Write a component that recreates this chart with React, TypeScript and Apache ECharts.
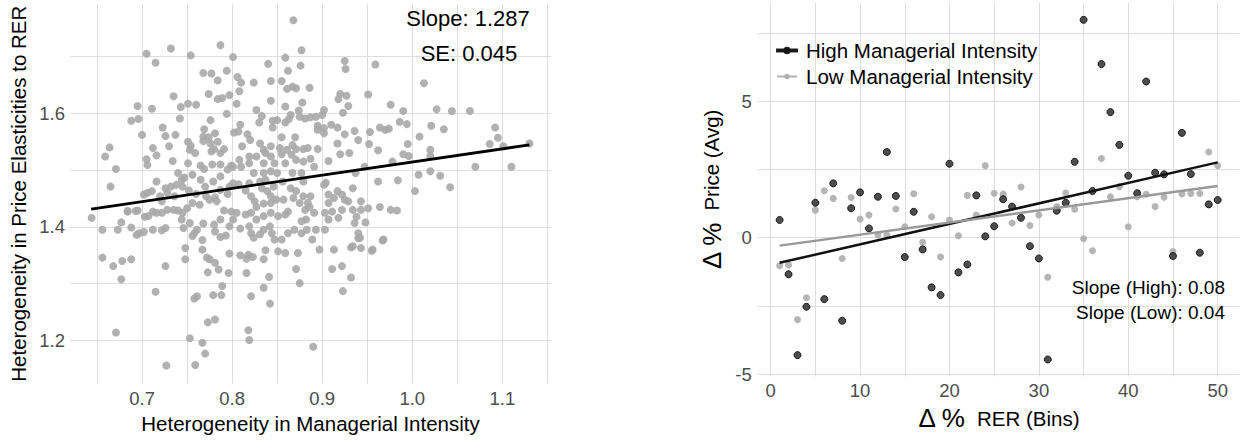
import React, { useEffect, useRef } from "react";
import * as echarts from "echarts";

// ---------- Left panel data ----------
const leftPoints: [number, number][] = [
  [0.868,1.764],[0.732,1.714],[0.705,1.705],[0.787,1.720],[0.754,1.702],[0.801,1.699],[0.877,1.711],[0.715,1.689],[0.840,1.687],[0.859,1.698],
  [0.876,1.684],[0.925,1.692],[0.926,1.678],[0.959,1.686],[0.862,1.675],[0.794,1.675],[0.768,1.671],[0.777,1.670],[0.806,1.664],[0.784,1.658],
  [0.810,1.654],[0.824,1.654],[0.843,1.657],[0.855,1.657],[1.013,1.653],[0.867,1.647],[0.861,1.643],[0.871,1.644],[0.886,1.645],[0.808,1.639],
  [0.774,1.634],[0.789,1.627],[0.784,1.625],[0.797,1.632],[0.735,1.630],[0.951,1.633],[0.920,1.634],[0.927,1.631],[0.918,1.625],[0.843,1.622],
  [0.878,1.619],[0.805,1.617],[0.751,1.617],[0.760,1.615],[0.743,1.611],[0.695,1.613],[0.711,1.608],[0.929,1.613],[0.859,1.612],[0.827,1.606],
  [0.976,1.615],[1.027,1.607],[1.044,1.604],[1.064,1.604],[0.990,1.604],[0.902,1.606],[0.923,1.601],[0.874,1.605],[0.900,1.597],[0.893,1.594],
  [0.887,1.593],[0.881,1.591],[0.875,1.594],[0.865,1.597],[0.833,1.595],[0.794,1.599],[0.742,1.591],[0.688,1.587],[0.696,1.590],
  [0.845,1.587],[0.859,1.584],[0.863,1.590],[0.850,1.588],[0.830,1.584],[0.809,1.580],[0.776,1.588],[0.986,1.585],[0.994,1.581],[1.021,1.578],
  [0.964,1.575],[0.970,1.571],[0.974,1.573],[1.092,1.575],[1.035,1.572],[0.910,1.580],[0.895,1.578],[0.917,1.575],[0.902,1.574],[0.895,1.571],
  [0.845,1.575],[0.769,1.572],[0.723,1.575],[0.802,1.566],[0.902,1.565],[0.953,1.567],[0.936,1.569],[0.925,1.563],[0.781,1.565],[0.700,1.562],
  [0.726,1.560],[0.737,1.562],[0.807,1.568],[0.768,1.559],[0.774,1.558],[0.817,1.563],[0.855,1.558],[0.870,1.558],[1.008,1.559],[1.095,1.557],
  [0.820,1.553],[0.784,1.550],[0.751,1.550],[0.768,1.551],[0.917,1.547],[0.952,1.546],[0.940,1.553],[1.086,1.546],[1.101,1.542],[0.995,1.546],
  [1.130,1.547],[0.712,1.539],[0.730,1.542],[0.754,1.543],[0.811,1.542],[0.831,1.547],[0.853,1.539],[0.871,1.537],[0.879,1.537],[0.884,1.539],
  [0.895,1.537],[0.664,1.540],[0.659,1.524],[0.665,1.471],[0.671,1.502],[0.753,1.536],[0.759,1.530],[0.777,1.533],[0.791,1.537],[0.716,1.526],
  [0.705,1.519],[0.706,1.509],[0.734,1.516],[0.962,1.535],[1.020,1.536],[1.020,1.525],[0.990,1.528],[0.996,1.525],[0.978,1.515],[0.930,1.530],
  [0.920,1.528],[0.907,1.516],[1.070,1.506],[1.110,1.506],[1.042,1.470],[1.031,1.490],[1.020,1.498],[1.007,1.492],[1.003,1.463],[0.962,1.480],
  [0.984,1.482],[0.937,1.495],[0.947,1.506],[0.934,1.468],[0.922,1.457],[0.904,1.478],[0.902,1.474],[0.917,1.463],[0.913,1.451],[0.925,1.448],
  [0.907,1.442],[0.903,1.425],
  [0.837,1.530],[0.843,1.524],[0.855,1.528],[0.866,1.527],[0.859,1.512],[0.847,1.512],[0.835,1.512],[0.819,1.512],[0.799,1.508],[0.787,1.510],
  [0.765,1.508],[0.769,1.502],[0.751,1.512],[0.740,1.495],[0.747,1.487],[0.778,1.510],[0.810,1.506],[0.879,1.515],[0.887,1.520],[0.871,1.518],
  [0.877,1.495],[0.891,1.506],[0.867,1.544],[0.861,1.536],
  [0.824,1.495],[0.835,1.495],[0.843,1.498],[0.850,1.495],[0.831,1.480],[0.837,1.483],[0.819,1.477],[0.807,1.475],[0.797,1.471],[0.787,1.489],
  [0.779,1.480],[0.770,1.471],[0.765,1.483],[0.756,1.492],[0.744,1.483],[0.738,1.474],[0.732,1.471],[0.726,1.468],[0.716,1.480],[0.706,1.460],
  [0.711,1.463],[0.702,1.457],[0.720,1.454],[0.728,1.460],[0.736,1.454],[0.745,1.471],[0.752,1.464],[0.760,1.458],[0.771,1.454],[0.781,1.452],
  [0.787,1.465],[0.795,1.458],[0.801,1.477],[0.815,1.464],[0.821,1.454],[0.825,1.445],[0.833,1.468],[0.839,1.463],[0.846,1.471],[0.856,1.480],
  [0.865,1.468],[0.871,1.463],[0.879,1.454],[0.857,1.448],[0.849,1.448],[0.843,1.454],[0.867,1.495],[0.879,1.480],[0.887,1.454],[0.884,1.442],
  [0.875,1.442],[0.868,1.451],[0.862,1.427],[0.881,1.430],[0.886,1.435],[0.891,1.425],[0.882,1.413],[0.877,1.410],
  [0.843,1.442],[0.835,1.441],[0.827,1.435],[0.821,1.425],[0.815,1.422],[0.805,1.425],[0.799,1.427],[0.791,1.429],[0.783,1.445],[0.775,1.448],
  [0.764,1.439],[0.756,1.442],[0.750,1.433],[0.745,1.425],[0.740,1.429],[0.735,1.430],[0.728,1.430],[0.722,1.425],[0.716,1.425],[0.712,1.427],
  [0.707,1.419],[0.703,1.418],[0.695,1.429],[0.684,1.427],[0.677,1.408],[0.673,1.395],[0.688,1.399],[0.697,1.389],[0.702,1.391],[0.712,1.395],
  [0.722,1.394],[0.726,1.398],[0.744,1.413],[0.746,1.398],[0.753,1.407],[0.758,1.389],[0.761,1.395],[0.768,1.406],[0.780,1.404],[0.787,1.413],
  [0.797,1.401],[0.801,1.413],[0.809,1.397],[0.819,1.401],[0.821,1.389],[0.824,1.381],[0.831,1.387],[0.835,1.395],[0.842,1.401],[0.844,1.389],
  [0.847,1.378],[0.855,1.378],[0.835,1.419],[0.827,1.413],[0.843,1.425],[0.851,1.419],[0.859,1.422],[0.869,1.395],[0.862,1.389],[0.883,1.395],
  [0.877,1.389],[0.889,1.378],[0.893,1.395],[0.903,1.395],[0.907,1.413],[0.911,1.427],[0.918,1.416],[0.922,1.430],[0.934,1.430],[0.938,1.418],
  [0.936,1.407],[0.940,1.389],[0.942,1.381],[0.943,1.363],[0.934,1.366],[0.948,1.408],[0.951,1.433],[0.943,1.430],[0.943,1.445],[0.964,1.435],
  [0.976,1.430],[0.983,1.429],[0.968,1.378],[0.956,1.360],[0.913,1.360],[0.897,1.360],[0.873,1.354],[0.859,1.354],[0.851,1.357],[0.837,1.359],
  [0.835,1.343],[0.818,1.351],[0.816,1.344],[0.823,1.347],[0.809,1.350],[0.797,1.353],[0.787,1.382],[0.781,1.392],[0.793,1.385],[0.767,1.377],
  [0.756,1.384],[0.748,1.363],[0.767,1.360],[0.772,1.346],[0.775,1.343],[0.781,1.337],[0.748,1.343],[0.726,1.331],[0.688,1.343],[0.678,1.340],
  [0.668,1.331],[0.656,1.346],[0.656,1.395],[0.644,1.416],
  [0.677,1.308],[0.773,1.320],[0.785,1.325],[0.796,1.319],[0.816,1.319],[0.841,1.312],[0.871,1.326],[0.875,1.301],[0.911,1.326],[0.922,1.331],
  [0.932,1.311],[0.789,1.296],[0.835,1.293],[0.923,1.287],[0.715,1.286],[0.758,1.274],[0.761,1.278],[0.779,1.280],[0.788,1.280],[0.821,1.278],
  [0.842,1.265],[0.773,1.232],[0.781,1.237],[0.818,1.218],[0.819,1.201],[0.753,1.204],[0.767,1.196],[0.770,1.177],[0.759,1.157],[0.727,1.156],
  [0.890,1.189],[0.671,1.214],
  [0.694,1.386],[0.722,1.445],[0.907,1.457],[0.929,1.445],[0.843,1.542],[0.835,1.536],[0.819,1.524],[0.808,1.518],[0.801,1.506],[0.795,1.501],
  [0.827,1.524],[0.776,1.547],[0.780,1.537],[0.787,1.530],[0.967,1.376],[0.955,1.358],[0.932,1.364],[0.940,1.380],[0.684,1.428],[0.693,1.428],
];
const leftFit: [number, number][] = [[0.6435, 1.4315], [1.130, 1.5444]];
const leftXTicks = [0.65, 0.7, 0.75, 0.8, 0.85, 0.9, 0.95, 1.0, 1.05, 1.1, 1.15];
const leftXLabels = [0.7, 0.8, 0.9, 1.0, 1.1];
const leftYTicks = [1.2, 1.3, 1.4, 1.5, 1.6, 1.7];
const leftYLabels = [1.2, 1.4, 1.6];

// ---------- Right panel data ----------
const bins = [1,2,3,4,5,6,7,8,9,10,11,12,13,14,15,16,17,18,19,20,21,22,23,24,25,26,27,28,29,30,31,32,33,34,35,36,37,38,39,40,41,42,43,44,45,46,47,48,49,50];
const highVals = [0.65,-1.34,-4.30,-2.53,1.28,-2.25,1.99,-3.04,1.08,1.66,0.34,1.50,3.14,1.53,-0.71,0.95,-0.43,-1.82,-2.10,2.71,
  -1.27,-0.98,1.55,0.05,0.42,1.41,1.14,0.73,-0.31,-0.76,-4.46,0.99,1.28,2.78,7.98,1.71,6.36,4.60,3.40,2.27,
  1.63,5.72,2.38,2.32,-0.67,3.84,2.33,-0.55,1.22,1.38];
const lowVals = [-1.03,-1.00,-3.00,-2.20,1.01,1.72,1.44,-0.76,1.47,0.68,0.83,0.10,0.10,1.05,0.40,1.61,-0.17,0.77,-0.71,0.65,
  0.07,1.55,0.83,2.64,1.63,1.60,0.54,1.86,0.45,0.83,-1.45,1.14,1.64,1.04,-0.04,-0.48,2.90,1.50,1.87,0.40,
  1.50,1.59,1.14,1.48,-0.51,1.60,1.62,1.62,3.14,2.64];
const highFit: [number, number][] = [[1, -0.92], [50, 2.76]];
const lowFit: [number, number][] = [[1, -0.29], [50, 1.89]];
const rightXTicks = [0, 5, 10, 15, 20, 25, 30, 35, 40, 45, 50];
const rightXLabels = [0, 10, 20, 30, 40, 50];
const rightYTicks = [-5, -2.5, 0, 2.5, 5, 7.5];
const rightYLabels = [-5, 0, 5];

const HIGH = "High Managerial Intensity";
const LOW = "Low Managerial Intensity";
const FONT = "'Liberation Sans', Arial, sans-serif";
const GRID_COLOR = "#dedede";
const TICK_COLOR = "#4d4d4d";

export default function App() {
  const ref = useRef<HTMLDivElement>(null);
  useEffect(() => {
    if (!ref.current) return;
    const chart = echarts.init(ref.current, undefined, { renderer: "svg" });
    const splitLine = { show: true, lineStyle: { color: GRID_COLOR, width: 1.1 } };
    const baseAxis = {
      type: "value" as const,
      axisLine: { show: false },
      splitLine,
    };
    const legendIcon = "path://M0,3.1 L20,3.1 L20,4.9 L0,4.9 Z M7.2,4 A2.8,2.8 0 1,1 12.8,4 A2.8,2.8 0 1,1 7.2,4 Z";
    const annot = (x: number, y: number, text: string, size: number, align: string) => ({
      type: "text", x, y, z: 100,
      style: { text, fill: "#000", fontSize: size, fontFamily: FONT, align, verticalAlign: "middle" },
    });
    chart.setOption({
      animation: false,
      textStyle: { fontFamily: FONT },
      grid: [
        { left: 70, top: 3.7, width: 481, height: 380 },
        { left: 757.7, top: 2.9, width: 481.9, height: 373.5 },
      ],
      xAxis: [
        {
          ...baseAxis, gridIndex: 0, min: 0.62, max: 1.154,
          axisTick: { show: false, customValues: leftXTicks },
          axisLabel: { customValues: leftXLabels, formatter: (v: number) => v.toFixed(1), fontSize: 18.5, color: TICK_COLOR, margin: 5 },
          name: "Heterogeneity in Managerial Intensity", nameLocation: "middle", nameGap: 26,
          nameTextStyle: { fontSize: 20.5, color: "#000" },
        },
        {
          ...baseAxis, gridIndex: 1, min: -1.45, max: 52.45,
          axisTick: { show: false, customValues: rightXTicks },
          axisLabel: { customValues: rightXLabels, formatter: (v: number) => String(Math.round(v)), fontSize: 18.5, color: TICK_COLOR, margin: 5 },
          name: "{d|Δ %}  {t|RER (Bins)}", nameLocation: "middle", nameGap: 29,
          nameTextStyle: { fontSize: 20.5, color: "#000", rich: { d: { fontSize: 26, color: "#000" }, t: { fontSize: 20.5, color: "#000" } } },
        },
      ],
      yAxis: [
        {
          ...baseAxis, gridIndex: 0, min: 1.124, max: 1.793,
          axisTick: { show: false, customValues: leftYTicks },
          axisLabel: { customValues: leftYLabels, formatter: (v: number) => v.toFixed(1), fontSize: 18.5, color: TICK_COLOR, margin: 5 },
          name: "Heterogeneity in Price Elasticities to RER", nameLocation: "middle", nameGap: 41, nameRotate: 90,
          nameTextStyle: { fontSize: 20.5, color: "#000" },
        },
        {
          ...baseAxis, gridIndex: 1, min: -5.08, max: 8.6,
          axisTick: { show: false, customValues: rightYTicks },
          axisLabel: { customValues: rightYLabels, formatter: (v: number) => String(Math.round(v)), fontSize: 18.5, color: TICK_COLOR, margin: 6 },
          name: "{d|Δ %}  {t|Price (Avg)}", nameLocation: "middle", nameGap: 33, nameRotate: 90,
          nameTextStyle: { fontSize: 20.5, color: "#000", rich: { d: { fontSize: 26, color: "#000" }, t: { fontSize: 20.5, color: "#000" } } },
        },
      ],
      legend: {
        left: 771, top: 35, orient: "vertical", itemGap: 5,
        itemWidth: 20, itemHeight: 5.6,
        textStyle: { fontSize: 20.5, color: "#000", padding: [0, 0, 0, 4] },
        data: [
          { name: HIGH, icon: legendIcon, itemStyle: { color: "#151515" } },
          { name: LOW, icon: legendIcon, itemStyle: { color: "#a8a8a8" } },
        ],
      },
      graphic: [
        annot(468, 18, "Slope: 1.287", 22, "center"),
        annot(469, 53, "SE: 0.045", 22, "center"),
        annot(1225, 287, "Slope (High): 0.08", 19, "right"),
        annot(1225, 312, "Slope (Low): 0.04", 19, "right"),
      ],
      series: [
        {
          type: "scatter", xAxisIndex: 0, yAxisIndex: 0, data: leftPoints, symbolSize: 8,
          itemStyle: { color: "#a9a9a9", opacity: 0.9 }, silent: true,
        },
        {
          type: "line", xAxisIndex: 0, yAxisIndex: 0, data: leftFit, showSymbol: false,
          lineStyle: { color: "#000", width: 2.8 }, silent: true,
        },
        {
          name: LOW, type: "scatter", xAxisIndex: 1, yAxisIndex: 1,
          data: bins.map((b, i) => [b, lowVals[i]]), symbolSize: 7,
          itemStyle: { color: "#adadad", opacity: 0.9 }, silent: true,
        },
        {
          name: HIGH, type: "scatter", xAxisIndex: 1, yAxisIndex: 1,
          data: bins.map((b, i) => [b, highVals[i]]), symbolSize: 7,
          itemStyle: { color: "#3a3a3a", borderColor: "#111", borderWidth: 1, opacity: 0.9 }, silent: true,
        },
        {
          name: "highFit", type: "line", xAxisIndex: 1, yAxisIndex: 1, data: highFit, showSymbol: false,
          lineStyle: { color: "#111", width: 2.5 }, silent: true,
        },
        {
          name: "lowFit", type: "line", xAxisIndex: 1, yAxisIndex: 1, data: lowFit, showSymbol: false,
          lineStyle: { color: "#999", width: 2.5 }, silent: true,
        },
      ],
    });
    return () => chart.dispose();
  }, []);
  return (
    <div
      ref={ref}
      style={{ position: "absolute", left: 0, top: 0, width: 1247, height: 442, background: "#fff" }}
    />
  );
}
